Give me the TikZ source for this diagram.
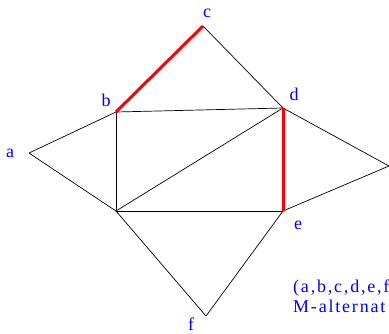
\documentclass[tikz,border=0pt]{standalone}
\usepackage{fontspec}
\setmainfont{Liberation Serif}
\usetikzlibrary{positioning}

\begin{document}
\begin{tikzpicture}[x=1pt,y=-1pt,
  edge/.style={draw,line width=0.7pt},
  redge/.style={draw,red,line width=3pt},
  lbl/.style={text=blue,inner sep=0pt,
    font=\addfontfeatures{LetterSpace=10}\fontsize{18}{20}\selectfont}]
\useasboundingbox (0,0) rectangle (389,333);
% vertices
\coordinate (a) at (29,153);
\coordinate (b) at (116,112);
\coordinate (c) at (203,26);
\coordinate (d) at (283,108);
\coordinate (r) at (389,166);
\coordinate (e) at (283,211);
\coordinate (g) at (116,211);
\coordinate (f) at (206,316);
% edges
\draw[edge] (a) -- (b);
\draw[edge] (a) -- (g);
\draw[edge] (c) -- (d);
\draw[edge] (b) -- (d);
\draw[edge] (b) -- (g);
\draw[edge] (g) -- (d);
\draw[edge] (g) -- (e);
\draw[edge] (d) -- (r);
\draw[edge] (r) -- (e);
\draw[edge] (g) -- (f);
\draw[edge] (f) -- (e);
\draw[redge] (b) -- (c);
\draw[redge] (d) -- (e);
% labels
\node[lbl] (la) at (10,153) {a};
\node[lbl] (lb) at (106,100) {b};
\node[lbl] (lc) at (207,13) {c};
\node[lbl] (ld) at (294,94) {d};
\node[lbl] (le) at (298,225) {e};
\node[lbl] (lf) at (191,324) {f};
\node[lbl,anchor=base west] (txt1) at (293,292) {(a,b,c,d,e,f};
\node[lbl,anchor=base west] (txt2) at (293,312) {M-alternat};
\end{tikzpicture}
\end{document}
